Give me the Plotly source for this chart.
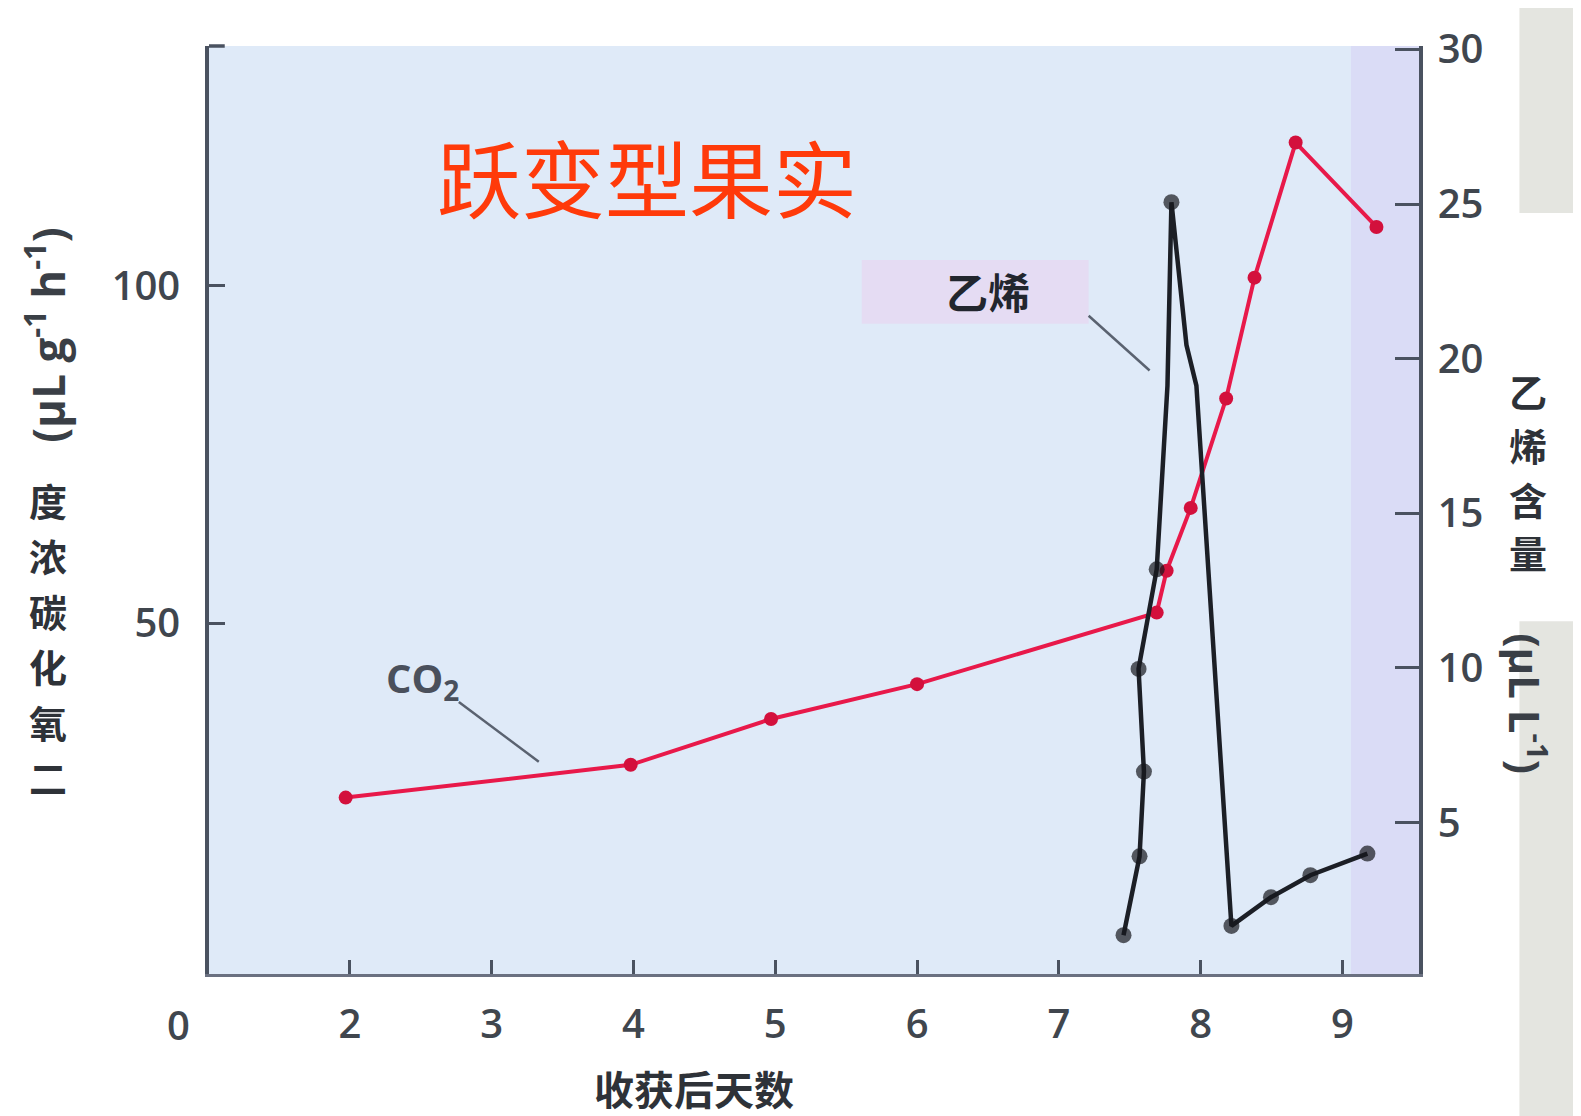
import plotly.graph_objects as go

# ---------------- data ----------------
co2_day = [1.97, 3.98, 4.97, 6.0, 7.69, 7.76, 7.93, 8.18, 8.38, 8.67, 9.24]
co2_val = [24.2, 29.06, 35.84, 41.0, 51.6, 57.8, 67.1, 83.3, 101.2, 121.2, 108.7]

eth_day = [7.456, 7.569, 7.60, 7.562, 7.69, 7.766, 7.794, 7.90, 7.97, 8.217, 8.496, 8.774, 9.176]
eth_val = [1.36, 3.91, 6.65, 9.97, 13.19, 19.13, 25.06, 20.44, 19.13, 1.66, 2.59, 3.30, 4.00]
eth_sampled = [True, True, True, True, True, False, True, False, False, True, True, True, True]

x_ticks = [2, 3, 4, 5, 6, 7, 8, 9]
x_tick_text = ["2", "3", "4", "5", "6", "7", "8", "9"]
x_origin_label = "0"
y_left_ticks = [50, 100]
y_right_ticks = [5, 10, 15, 20, 25, 30]

title_text = "跃变型果实"
x_title = "收获后天数"
left_title_cjk = ["度", "浓", "碳", "化", "氧", "二"]
left_title_unit = "(µL g<sup>-1</sup> h<sup>-1</sup>)"
right_title_cjk = ["乙", "烯", "含", "量"]
right_title_unit = "(µL L<sup>-1</sup>)"
eth_label = "乙烯"
co2_label = "CO<sub>2</sub>"

# ---------------- styling ----------------
AX = "#4a5260"
TXT = "#40464e"
CJK = "Noto Sans CJK SC"
NUM = "Open Sans"
PLOT_TOP, PLOT_H = 42, 932     # plot area in window pixels

fig = go.Figure()

fig.add_trace(go.Scatter(
    x=co2_day, y=co2_val, mode="lines+markers",
    line=dict(color="#e8194a", width=4),
    marker=dict(color="#d3103c", size=14, symbol="circle"),
    yaxis="y", showlegend=False, hoverinfo="skip"))

fig.add_trace(go.Scatter(
    x=eth_day, y=eth_val, mode="lines+markers",
    line=dict(color="#1c1f26", width=4.5),
    marker=dict(color="#15171c", size=[16 if s else 0 for s in eth_sampled],
                line=dict(width=0)),
    yaxis="y2", showlegend=False, hoverinfo="skip"))

shapes = [
    dict(type="rect", xref="x", yref="paper", x0=9.06, x1=9.54, y0=0, y1=1,
         fillcolor="#dadcf6", line=dict(width=0), layer="below"),
    dict(type="rect", xref="x", yref="y2", x0=5.61, x1=7.21, y0=21.13, y1=23.19,
         fillcolor="#e5dcf3", line=dict(width=0), layer="below"),
    dict(type="line", xref="x", yref="y2", x0=7.21, y0=21.39, x1=7.64, y1=19.62,
         line=dict(color="#5a6270", width=2.5)),
    dict(type="line", xref="x", yref="y", x0=2.768, y0=38.35, x1=3.332, y1=29.5,
         line=dict(color="#5a6270", width=2.5)),
    dict(type="line", xref="paper", yref="paper", x0=0, x1=0.013, y0=1, y1=1,
         line=dict(color=AX, width=3.5)),
    dict(type="rect", xref="paper", yref="paper", x0=1.083, x1=1.2, y0=0.82, y1=1.1,
         fillcolor="#e4e5e0", line=dict(width=0), layer="below"),
    dict(type="rect", xref="paper", yref="paper", x0=1.083, x1=1.2, y0=-0.2, y1=0.38,
         fillcolor="#e4e5e0", line=dict(width=0), layer="below"),
]


def py(pix):
    """window pixel row -> paper y"""
    return (PLOT_TOP + PLOT_H - pix) / PLOT_H


C = dict(xanchor="center", yanchor="middle", showarrow=False)
annotations = [
    dict(text=title_text, xref="x", yref="y", x=4.094, y=116.35,
         font=dict(family=CJK, size=84, color="#ff3a0a"), **C),
    dict(text="<b>" + eth_label + "</b>", xref="x", yref="y2", x=6.497, y=22.2,
         font=dict(family=CJK, size=42, color="#22262e"), **C),
    dict(text="<b>" + co2_label + "</b>", xref="x", yref="y", x=2.515, y=41.7,
         font=dict(family=NUM, size=40, color="#4a505c"), **C),
    dict(text=x_origin_label, xref="paper", yref="paper", x=-0.025, y=py(1025),
         font=dict(family=NUM, size=40, color=TXT, weight=600), **C),
    dict(text="<b>" + x_title + "</b>", xref="paper", yref="paper", x=0.4008, y=py(1088),
         font=dict(family=CJK, size=40, color="#2e3238"), **C),
    dict(text="<b>" + left_title_unit + "</b>", xref="paper", yref="paper",
         x=-0.1355, y=py(333), textangle=-90,
         font=dict(family=NUM, size=44, color="#3a3f46"), **C),
    dict(text="<b>" + right_title_unit + "</b>", xref="paper", yref="paper",
         x=1.090, y=py(703), textangle=90,
         font=dict(family=NUM, size=42, color="#3a3f46"), **C),
]
for i, ch in enumerate(left_title_cjk):
    annotations.append(dict(text="<b>" + ch + "</b>", xref="paper", yref="paper",
                            x=-0.133, y=py(497 + 55.8 * i),
                            font=dict(family=CJK, size=38, color="#2e3238"), **C))
for i, ch in enumerate(right_title_cjk):
    annotations.append(dict(text="<b>" + ch + "</b>", xref="paper", yref="paper",
                            x=1.090, y=py(388 + 54 * i),
                            font=dict(family=CJK, size=38, color="#2e3238"), **C))

tickfont = dict(family=NUM, size=40, color=TXT, weight=600)

# page body adds an 8px margin: shrink the figure by that much
fig.update_layout(
    width=1573, height=1108,
    margin=dict(l=201, r=162, t=34, b=142),
    paper_bgcolor="white",
    plot_bgcolor="#dfeaf8",
    shapes=shapes,
    annotations=annotations,
    xaxis=dict(range=[1.006, 9.54], tickvals=x_ticks, ticktext=x_tick_text,
               ticks="inside", ticklen=14, tickwidth=3, tickcolor=AX,
               showline=True, linewidth=3, linecolor="#6a7080",
               showgrid=False, zeroline=False, ticklabelstandoff=13,
               tickfont=tickfont),
    yaxis=dict(range=[-1.92, 135.5], tickvals=y_left_ticks,
               ticks="inside", ticklen=16, tickwidth=3, tickcolor=AX,
               showline=True, linewidth=3.5, linecolor=AX,
               showgrid=False, zeroline=False, ticklabelstandoff=17,
               tickfont=tickfont),
    yaxis2=dict(range=[0.106, 30.11], tickvals=y_right_ticks, overlaying="y", side="right",
                ticks="inside", ticklen=24, tickwidth=3, tickcolor=AX,
                showline=True, linewidth=3.5, linecolor=AX,
                showgrid=False, zeroline=False, ticklabelstandoff=7,
                tickfont=tickfont),
)

fig.write_html("out.html")
